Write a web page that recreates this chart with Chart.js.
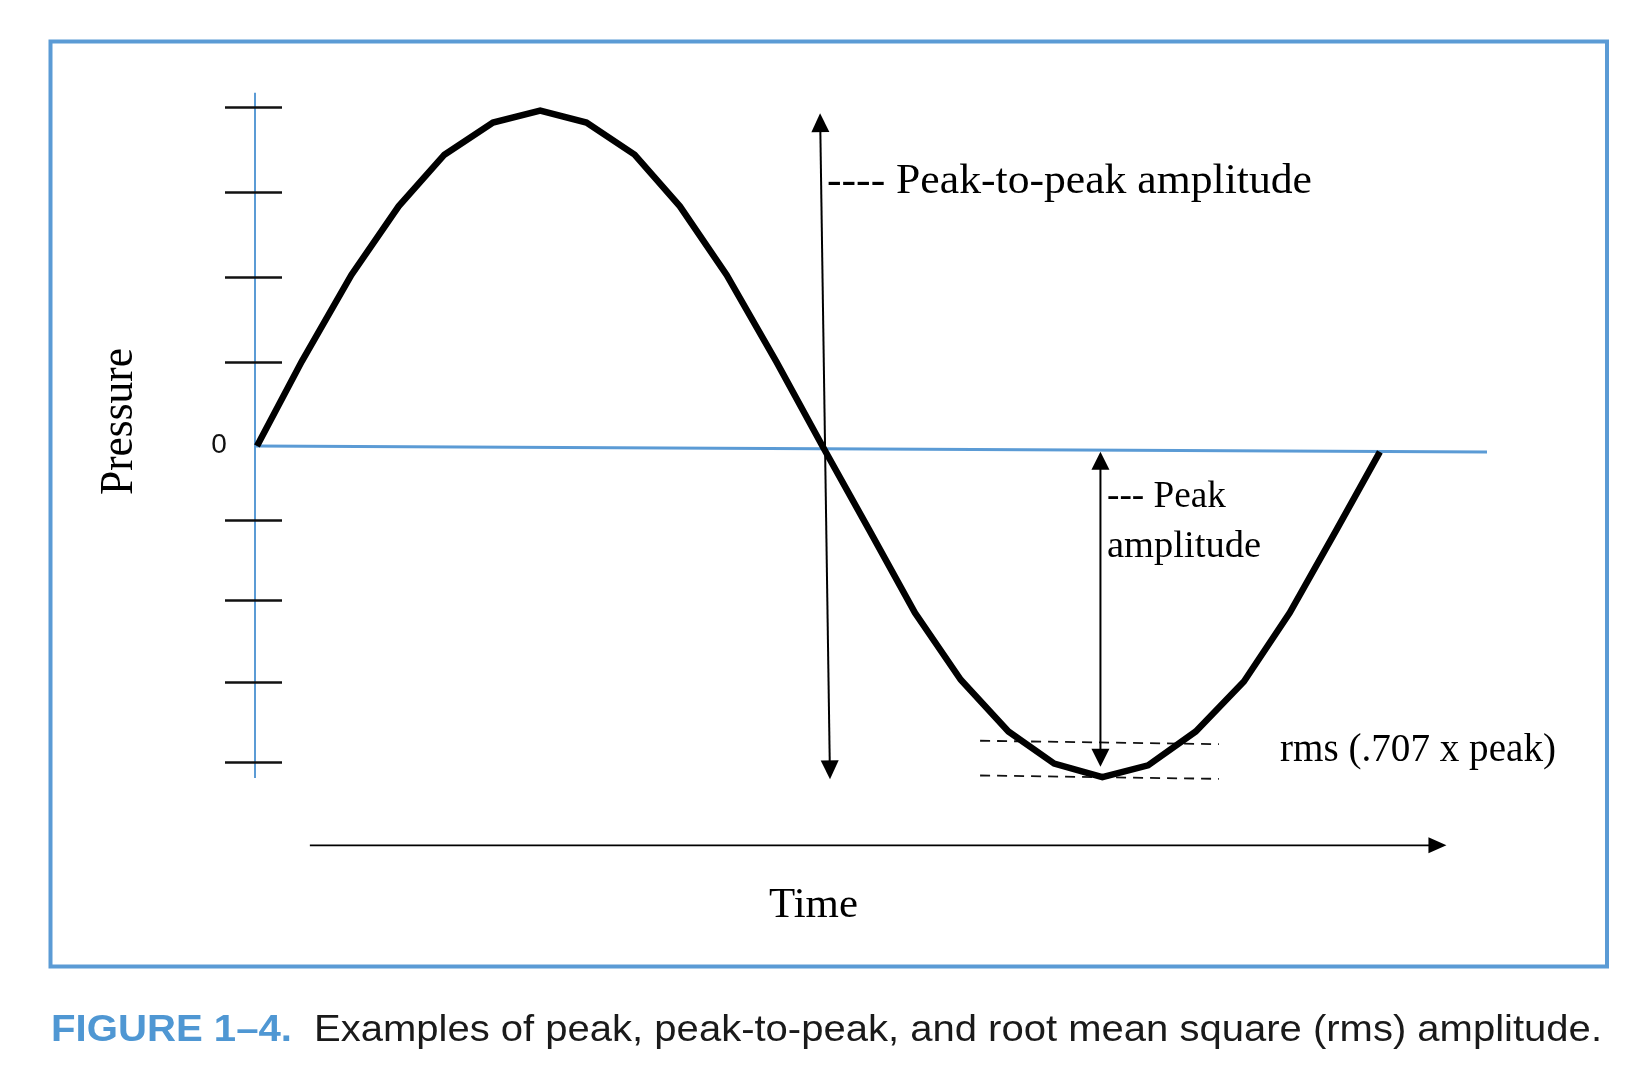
<!DOCTYPE html>
<html>
<head>
<meta charset="utf-8">
<script src="https://cdn.jsdelivr.net/npm/chart.js@4/dist/chart.umd.min.js"></script>
<style>
  html, body { margin: 0; padding: 0; background: #ffffff; }
  #wrap { width: 1646px; height: 1088px; }
</style>
</head>
<body>
<div id="wrap"><canvas id="c" width="1646" height="1088"></canvas></div>
<script>
// ---- Data (time in drawing steps, pressure in tick units) ----
const times = [0, 0.95, 2, 3, 3.97, 5, 6, 6.98, 8, 8.96, 9.95, 11, 12,
               12.97, 13.94, 14.91, 15.92, 16.89, 17.91, 18.88, 19.89, 20.91, 21.88, 22.85, 23.79];
const pressure = [0, 1.0, 2.02, 2.83, 3.44, 3.82, 3.96, 3.82, 3.44, 2.83, 2.02, 1.0, -0.02,
                  -0.99, -1.97, -2.76, -3.37, -3.75, -3.91, -3.77, -3.37, -2.78, -1.97, -1.01, -0.07];

// zero (baseline) line, slightly tilted as drawn
const zeroLineX = [-0.04, 26.06];
const zeroLineY = [0, -0.072];

// y axis extent and tick marks
const yAxisRange = [4.17, -3.92];
const yTickValues = [4.0, 3.0, 2.0, 0.995, -0.874, -1.818, -2.784, -3.725];
const yTickLabels = ["0"];

// rms dashed guide lines
const rmsX = [15.32, 20.38];
const rmsUpperY = [-3.48, -3.52];
const rmsLowerY = [-3.89, -3.93];

// double-headed arrows: [x1, y1, x2, y2]
const peakToPeakArrow = [11.93, 3.93, 12.14, -3.935];
const peakArrow = [17.87, -0.067, 17.87, -3.786];
// time arrow (single head)
const timeArrow = [1.12, -4.715, 25.2, -4.715];

// labels
const labelPeakToPeak = "---- Peak-to-peak amplitude";
const labelPeak1 = "--- Peak";
const labelPeak2 = "amplitude";
const labelRms = "rms (.707 x peak)";
const labelTime = "Time";
const labelPressure = "Pressure";
const captionBold = "FIGURE 1\u20134.";
const captionText = "Examples of peak, peak-to-peak, and root mean square (rms) amplitude.";

// ---- Styles ----
const BLUE = "#5b9bd5";
const CAPBLUE = "#4f97d3";
const SERIF = "'Liberation Serif', 'Times New Roman', serif";
const SANS = "'Liberation Sans', Arial, Helvetica, sans-serif";

function fitText(ctx, text, x, y, font, width, color) {
  ctx.save();
  ctx.font = font;
  ctx.fillStyle = color || "#000";
  ctx.textBaseline = "alphabetic";
  ctx.textAlign = "left";
  const w = ctx.measureText(text).width;
  ctx.translate(x, y);
  ctx.scale(width / w, 1);
  ctx.fillText(text, 0, 0);
  ctx.restore();
}

function arrowHead(ctx, x1, y1, x2, y2, len, half) {
  const a = Math.atan2(y2 - y1, x2 - x1);
  ctx.beginPath();
  ctx.moveTo(x2, y2);
  ctx.lineTo(x2 - len * Math.cos(a) + half * Math.sin(a), y2 - len * Math.sin(a) - half * Math.cos(a));
  ctx.lineTo(x2 - len * Math.cos(a) - half * Math.sin(a), y2 - len * Math.sin(a) + half * Math.cos(a));
  ctx.closePath();
  ctx.fill();
}

function drawArrow(ctx, p1, p2, both, lw, len, half) {
  const a = Math.atan2(p2[1] - p1[1], p2[0] - p1[0]);
  ctx.save();
  ctx.strokeStyle = "#000";
  ctx.fillStyle = "#000";
  ctx.lineWidth = lw;
  ctx.beginPath();
  const sx = both ? p1[0] + (len - 2) * Math.cos(a) : p1[0];
  const sy = both ? p1[1] + (len - 2) * Math.sin(a) : p1[1];
  ctx.moveTo(sx, sy);
  ctx.lineTo(p2[0] - (len - 2) * Math.cos(a), p2[1] - (len - 2) * Math.sin(a));
  ctx.stroke();
  arrowHead(ctx, p1[0], p1[1], p2[0], p2[1], len, half);
  if (both) arrowHead(ctx, p2[0], p2[1], p1[0], p1[1], len, half);
  ctx.restore();
}

const figurePlugin = {
  id: "figure",
  beforeDraw(chart) {
    const ctx = chart.ctx;
    ctx.save();
    ctx.fillStyle = "#fff";
    ctx.fillRect(0, 0, chart.width, chart.height);
    // frame
    ctx.strokeStyle = BLUE;
    ctx.lineWidth = 4;
    ctx.strokeRect(50.5, 41.5, 1556.5, 925);
    ctx.restore();
  },
  beforeDatasetsDraw(chart) {
    const ctx = chart.ctx;
    const xs = chart.scales.x, ys = chart.scales.y;
    const ax = xs.getPixelForValue(0) - 2;
    ctx.save();
    // y axis
    ctx.strokeStyle = BLUE;
    ctx.lineWidth = 2;
    ctx.beginPath();
    ctx.moveTo(ax, ys.getPixelForValue(yAxisRange[0]));
    ctx.lineTo(ax, ys.getPixelForValue(yAxisRange[1]));
    ctx.stroke();
    // tick marks
    ctx.strokeStyle = "#111";
    ctx.lineWidth = 2.5;
    yTickValues.forEach(v => {
      const py = Math.round(ys.getPixelForValue(v)) + 0.5;
      ctx.beginPath();
      ctx.moveTo(ax - 30, py);
      ctx.lineTo(ax + 27, py);
      ctx.stroke();
    });
    ctx.restore();
  },
  afterDatasetsDraw(chart) {
    const ctx = chart.ctx;
    const xs = chart.scales.x, ys = chart.scales.y;
    const P = (x, y) => [xs.getPixelForValue(x), ys.getPixelForValue(y)];
    drawArrow(ctx, P(peakToPeakArrow[0], peakToPeakArrow[1]), P(peakToPeakArrow[2], peakToPeakArrow[3]), true, 2, 19, 9);
    drawArrow(ctx, P(peakArrow[0], peakArrow[1]), P(peakArrow[2], peakArrow[3]), true, 2, 18, 9);
    drawArrow(ctx, P(timeArrow[0], timeArrow[1]), P(timeArrow[2], timeArrow[3]), false, 1.6, 18, 8);

    // texts
    fitText(ctx, labelPeakToPeak, 827, 193, "43px " + SERIF, 485, "#000");
    fitText(ctx, labelPeak1, 1107, 507, "38px " + SERIF, 119, "#000");
    fitText(ctx, labelPeak2, 1107, 557, "38px " + SERIF, 154, "#000");
    fitText(ctx, labelRms, 1280, 761, "39px " + SERIF, 276, "#000");
    fitText(ctx, labelTime, 769, 917, "43px " + SERIF, 89, "#000");

    // Pressure (rotated)
    ctx.save();
    ctx.translate(132, 495);
    ctx.rotate(-Math.PI / 2);
    fitText(ctx, labelPressure, 0, 0, "46px " + SERIF, 147, "#000");
    ctx.restore();

    // "0" tick label at the zero value
    ctx.save();
    ctx.font = "28px " + SANS;
    ctx.fillStyle = "#111";
    ctx.textAlign = "center";
    ctx.textBaseline = "alphabetic";
    ctx.fillText(yTickLabels[0], 219, ys.getPixelForValue(0) + 7);
    ctx.restore();

    // caption
    fitText(ctx, captionBold, 51, 1041, "bold 36px " + SANS, 241, CAPBLUE);
    fitText(ctx, captionText, 314, 1041, "36px " + SANS, 1288, "#1a1a1a");
  }
};

const sineData = times.map((t, i) => ({ x: t, y: pressure[i] }));
const zeroData = zeroLineX.map((t, i) => ({ x: t, y: zeroLineY[i] }));
const rmsUpper = rmsX.map((t, i) => ({ x: t, y: rmsUpperY[i] }));
const rmsLower = rmsX.map((t, i) => ({ x: t, y: rmsLowerY[i] }));

new Chart(document.getElementById("c"), {
  type: "line",
  data: {
    datasets: [
      { label: "Pressure", data: sineData, borderColor: "#000", borderWidth: 6.5,
        pointRadius: 0, tension: 0, borderJoinStyle: "miter", borderCapStyle: "butt", clip: false },
      { label: "Zero", data: zeroData, borderColor: BLUE, borderWidth: 3, pointRadius: 0, clip: false },
      { label: "rms upper", data: rmsUpper, borderColor: "#111", borderWidth: 1.8,
        borderDash: [10, 7], pointRadius: 0, clip: false },
      { label: "rms lower", data: rmsLower, borderColor: "#111", borderWidth: 1.8,
        borderDash: [10, 7], pointRadius: 0, clip: false }
    ]
  },
  options: {
    responsive: false,
    devicePixelRatio: 1,
    animation: false,
    layout: { padding: { left: 257, right: 159, top: 90.3, bottom: 303.2 } },
    plugins: { legend: { display: false }, tooltip: { enabled: false }, title: { display: false } },
    scales: {
      x: { type: "linear", display: false, min: 0, max: 26.06 },
      y: { type: "linear", display: false, min: -4.0, max: 4.2 }
    }
  },
  plugins: [figurePlugin]
});
</script>
</body>
</html>
